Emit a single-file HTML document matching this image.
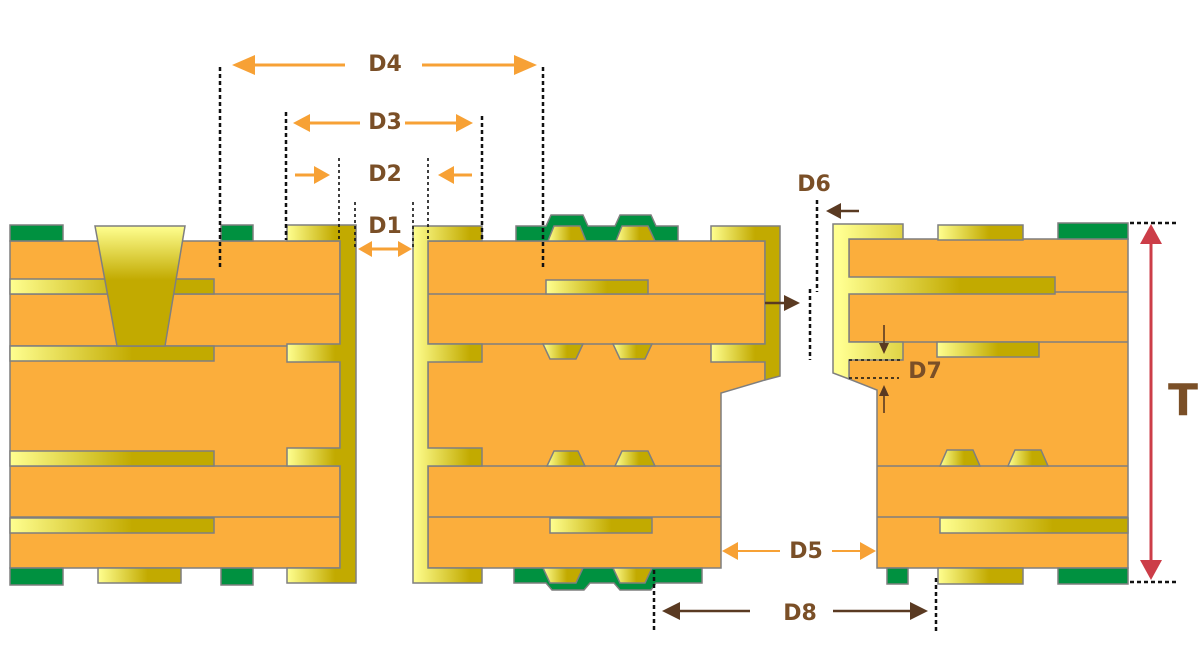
<!DOCTYPE html>
<html><head><meta charset="utf-8"><style>
html,body{margin:0;padding:0;background:#fff;width:1200px;height:650px;overflow:hidden}
svg{display:block}
text{font-family:"DejaVu Sans","Liberation Sans",sans-serif;font-weight:bold;fill:#7a4f27}
</style></head><body>
<svg width="1200" height="650" viewBox="0 0 1200 650" xmlns="http://www.w3.org/2000/svg">
<defs>
<linearGradient id="cu" x1="0" y1="0" x2="1" y2="0">
<stop offset="0" stop-color="#ffff90"/><stop offset="0.6" stop-color="#c2aa00"/><stop offset="1" stop-color="#c2aa00"/></linearGradient>
<linearGradient id="via" x1="0" y1="0" x2="0" y2="1">
<stop offset="0" stop-color="#ffff90"/><stop offset="0.45" stop-color="#c2aa00"/><stop offset="1" stop-color="#c2aa00"/></linearGradient>
<linearGradient id="lw" gradientUnits="userSpaceOnUse" x1="287" y1="0" x2="335" y2="0">
<stop offset="0" stop-color="#ffff90"/><stop offset="1" stop-color="#c2aa00"/></linearGradient>
<linearGradient id="mw" gradientUnits="userSpaceOnUse" x1="413" y1="0" x2="470" y2="0">
<stop offset="0" stop-color="#ffff90"/><stop offset="1" stop-color="#c2aa00"/></linearGradient>
<linearGradient id="mr" gradientUnits="userSpaceOnUse" x1="711" y1="0" x2="755" y2="0">
<stop offset="0" stop-color="#ffff90"/><stop offset="1" stop-color="#c2aa00"/></linearGradient>
<linearGradient id="rw" gradientUnits="userSpaceOnUse" x1="840" y1="0" x2="960" y2="0">
<stop offset="0" stop-color="#ffff90"/><stop offset="1" stop-color="#c2aa00"/></linearGradient>
</defs>
<g stroke="#7f7f7f" stroke-width="1.5">
<rect x="10" y="241" width="330" height="327" fill="#fbae3c"/>
<line x1="10" y1="294" x2="340" y2="294"/><line x1="10" y1="346" x2="340" y2="346"/>
<line x1="10" y1="466" x2="340" y2="466"/><line x1="10" y1="517" x2="340" y2="517"/>
<rect x="10" y="279" width="204" height="15" fill="url(#cu)"/>
<rect x="10" y="346" width="204" height="15" fill="url(#cu)"/>
<rect x="10" y="451" width="204" height="15" fill="url(#cu)"/>
<rect x="10" y="518" width="204" height="15" fill="url(#cu)"/>
<polygon points="95,226 185,226 165,346 117,346" fill="url(#via)"/>
<rect x="10" y="225" width="53" height="16" fill="#009140"/>
<rect x="221" y="225" width="32" height="16" fill="#009140"/>
<polygon points="287,225 356,225 356,583 287,583 287,568 340,568 340,466 287,466 287,448 340,448 340,362 287,362 287,344 340,344 340,241 287,241" fill="url(#lw)"/>
<rect x="10" y="568" width="53" height="17" fill="#009140"/>
<rect x="98" y="568" width="83" height="15" fill="url(#cu)"/>
<rect x="221" y="568" width="32" height="17" fill="#009140"/>
<polygon points="428,241 765,241 765,380 721,393 721,568 428,568" fill="#fbae3c"/>
<line x1="428" y1="294" x2="765" y2="294"/><line x1="428" y1="344" x2="765" y2="344"/>
<line x1="428" y1="466" x2="721" y2="466"/><line x1="428" y1="517" x2="721" y2="517"/>
<rect x="546" y="280" width="102" height="14" fill="url(#cu)"/>
<rect x="550" y="518" width="102" height="15" fill="url(#cu)"/>
<polygon points="543,344 583,344 576,359 550,359" fill="url(#cu)"/>
<polygon points="613,344 652,344 645,359 620,359" fill="url(#cu)"/>
<polygon points="547,466 585,466 578,451 554,451" fill="url(#cu)"/>
<polygon points="615,466 655,466 648,451 622,451" fill="url(#cu)"/>
<polygon points="413,226 482,226 482,241 428,241 428,344 482,344 482,362 428,362 428,448 482,448 482,466 428,466 428,568 482,568 482,583 413,583" fill="url(#mw)"/>
<polygon points="711,226 780,226 780,376 765,380 765,362 711,362 711,344 765,344 765,241 711,241" fill="url(#mr)"/>
<polygon points="516,241 516,226 546,226 551,215 583,215 588,226 615,226 620,215 651,215 656,226 678,226 678,241" fill="#009140"/>
<polygon points="548,241 586,241 580,226 554,226" fill="url(#cu)"/>
<polygon points="616,241 655,241 648,226 622,226" fill="url(#cu)"/>
<polygon points="514,568 702,568 702,583 656,583 651,590 620,590 614,583 590,583 584,590 552,590 546,583 514,583" fill="#009140"/>
<polygon points="543,568 583,568 576,583 550,583" fill="url(#cu)"/>
<polygon points="613,568 652,568 645,583 620,583" fill="url(#cu)"/>
<polygon points="849,239 1128,239 1128,568 877,568 877,390 849,379" fill="#fbae3c"/>
<line x1="849" y1="292" x2="1128" y2="292"/><line x1="849" y1="342" x2="1128" y2="342"/>
<line x1="877" y1="466" x2="1128" y2="466"/><line x1="877" y1="517" x2="1128" y2="517"/>
<rect x="937" y="342" width="102" height="15" fill="url(#cu)"/>
<rect x="940" y="518" width="188" height="15" fill="url(#cu)"/>
<polygon points="940,466 980,466 973,450 947,450" fill="url(#cu)"/>
<polygon points="1008,466 1048,466 1041,450 1015,450" fill="url(#cu)"/>
<polygon points="833,224 903,224 903,239 849,239 849,277 1055,277 1055,294 849,294 849,342 903,342 903,360 849,360 849,379 833,373" fill="url(#rw)"/>
<rect x="938" y="225" width="85" height="15" fill="url(#cu)"/>
<rect x="1058" y="223" width="70" height="16" fill="#009140"/>
<rect x="887" y="568" width="21" height="16" fill="#009140"/>
<rect x="938" y="568" width="85" height="16" fill="url(#cu)"/>
<rect x="1058" y="568" width="70" height="16" fill="#009140"/>
</g>
<g stroke="#111" stroke-width="2.5" stroke-dasharray="4,3" fill="none">
<line x1="220" y1="67" x2="220" y2="270"/><line x1="543" y1="67" x2="543" y2="270"/>
<line x1="286" y1="112" x2="286" y2="240"/><line x1="482" y1="116" x2="482" y2="242"/>
<line x1="1130" y1="223" x2="1178" y2="223"/><line x1="1130" y1="582" x2="1178" y2="582"/>
<line x1="817" y1="200" x2="817" y2="292"/><line x1="810" y1="289" x2="810" y2="360"/>
<line x1="654" y1="570" x2="654" y2="632"/><line x1="936" y1="578" x2="936" y2="632"/>
</g>
<g stroke="#111" stroke-width="1.6" stroke-dasharray="3,3" fill="none">
<line x1="339" y1="158" x2="339" y2="240"/><line x1="428" y1="158" x2="428" y2="240"/>
<line x1="355" y1="202" x2="355" y2="250"/><line x1="413" y1="202" x2="413" y2="250"/>
<line x1="849" y1="360" x2="900" y2="360"/><line x1="849" y1="378" x2="899" y2="378"/>
</g>
<g stroke="#f7a135" stroke-width="3" fill="#f7a135">
<line x1="345" y1="65" x2="250" y2="65"/><polygon points="232,65 255,55 255,75" stroke="none"/>
<line x1="422" y1="65" x2="520" y2="65"/><polygon points="537,65 514,55 514,75" stroke="none"/>
<line x1="360" y1="123" x2="305" y2="123"/><polygon points="293,123 310,114 310,132" stroke="none"/>
<line x1="405" y1="123" x2="460" y2="123"/><polygon points="473,123 456,114 456,132" stroke="none"/>
<line x1="295" y1="175" x2="318" y2="175"/><polygon points="330,175 314,166 314,184" stroke="none"/>
<line x1="472" y1="175" x2="450" y2="175"/><polygon points="438,175 454,166 454,184" stroke="none"/>
<line x1="368" y1="249" x2="402" y2="249"/><polygon points="358,249 372,241 372,257" stroke="none"/><polygon points="412,249 398,241 398,257" stroke="none"/>
</g>
<g stroke="#f7a135" stroke-width="2" fill="#f7a135">
<line x1="734" y1="551" x2="780" y2="551"/><polygon points="722,551 738,542 738,560" stroke="none"/>
<line x1="832" y1="551" x2="862" y2="551"/><polygon points="876,551 860,542 860,560" stroke="none"/>
</g>
<g stroke="#5a3a22" stroke-width="2.5" fill="#5a3a22">
<line x1="859" y1="211" x2="835" y2="211"/><polygon points="826,211 841,203 841,219" stroke="none"/>
<line x1="765" y1="303" x2="788" y2="303"/><polygon points="800,303 784,295 784,311" stroke="none"/>
<line x1="750" y1="611" x2="675" y2="611"/><polygon points="662,611 680,602 680,620" stroke="none"/>
<line x1="833" y1="611" x2="915" y2="611"/><polygon points="928,611 910,602 910,620" stroke="none"/>
</g>
<g stroke="#5a3a22" stroke-width="1.6" fill="#5a3a22">
<line x1="884" y1="325" x2="884" y2="345"/><polygon points="884,354 879,343 889,343" stroke="none"/>
<line x1="884" y1="413" x2="884" y2="394"/><polygon points="884,385 879,396 889,396" stroke="none"/>
</g>
<g stroke="#cc3d48" stroke-width="3" fill="#cc3d48">
<line x1="1151" y1="240" x2="1151" y2="564"/>
<polygon points="1151,224 1140,244 1162,244" stroke="none"/>
<polygon points="1151,580 1140,560 1162,560" stroke="none"/>
</g>
<g font-size="22" text-anchor="middle">
<text x="385" y="71">D4</text>
<text x="385" y="129">D3</text>
<text x="385" y="181">D2</text>
<text x="385" y="233">D1</text>
<text x="806" y="558">D5</text>
<text x="814" y="191">D6</text>
<text x="925" y="378">D7</text>
<text x="800" y="620">D8</text>
</g>
<text x="1183" y="415" font-size="44" text-anchor="middle">T</text>
</svg>
</body></html>
